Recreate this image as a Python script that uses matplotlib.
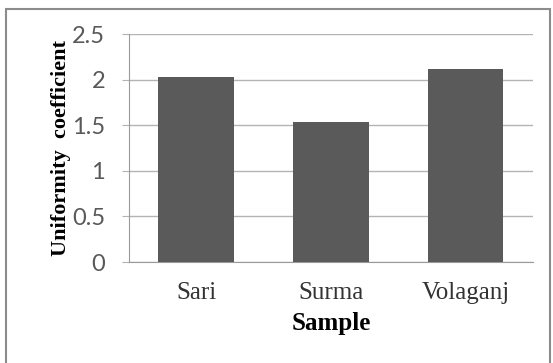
import matplotlib
matplotlib.use('Agg')
import matplotlib.pyplot as plt
from matplotlib.patches import Rectangle

# --- Data ---
samples = ["Sari", "Surma", "Volaganj"]
uniformity = [2.03, 1.54, 2.12]
y_ticks = [0, 0.5, 1, 1.5, 2, 2.5]
y_tick_labels = ["0", "0.5", "1", "1.5", "2", "2.5"]

bar_color = "#5a5a5a"
grid_color = "#b4b4b4"

fig = plt.figure(figsize=(5.53, 3.63), dpi=100)
ax = fig.add_axes([0.233, 0.278, 0.731, 0.628])

# outer chart frame like the Excel chart area
fig.patches.append(Rectangle((6/553, -0.05), 544/553, 1.05 - 9/363,
                             transform=fig.transFigure, fill=False,
                             edgecolor="#8c8c8c", linewidth=1.5))

x = range(len(samples))
ax.bar(x, uniformity, width=0.56, color=bar_color, zorder=3)

ax.set_ylim(0, 2.5)
ax.set_xlim(-0.5, len(samples) - 0.5)
ax.set_yticks(y_ticks)
ax.set_yticklabels(y_tick_labels, fontname="Lato", fontsize=17, color="#595959")
ax.set_xticks(list(x))
ax.set_xticklabels(samples, fontname="Liberation Serif", fontsize=18, color="#333333")

ax.yaxis.grid(True, color=grid_color, linewidth=1, zorder=0)
ax.tick_params(axis="y", length=5, color=grid_color, pad=12)
ax.tick_params(axis="x", length=0, pad=14)

ax.spines['top'].set_visible(False)
ax.spines['right'].set_visible(False)
ax.spines['left'].set_color("#9a9a9a")
ax.spines['bottom'].set_color("#9a9a9a")

ax.set_xlabel("Sample", fontname="Liberation Serif", fontweight="bold",
              fontsize=18, labelpad=6)
ax.set_ylabel("Uniformity  coefficient", fontname="Liberation Serif",
              fontweight="bold", fontsize=16, labelpad=1)

plt.savefig("out.png", dpi=100)
